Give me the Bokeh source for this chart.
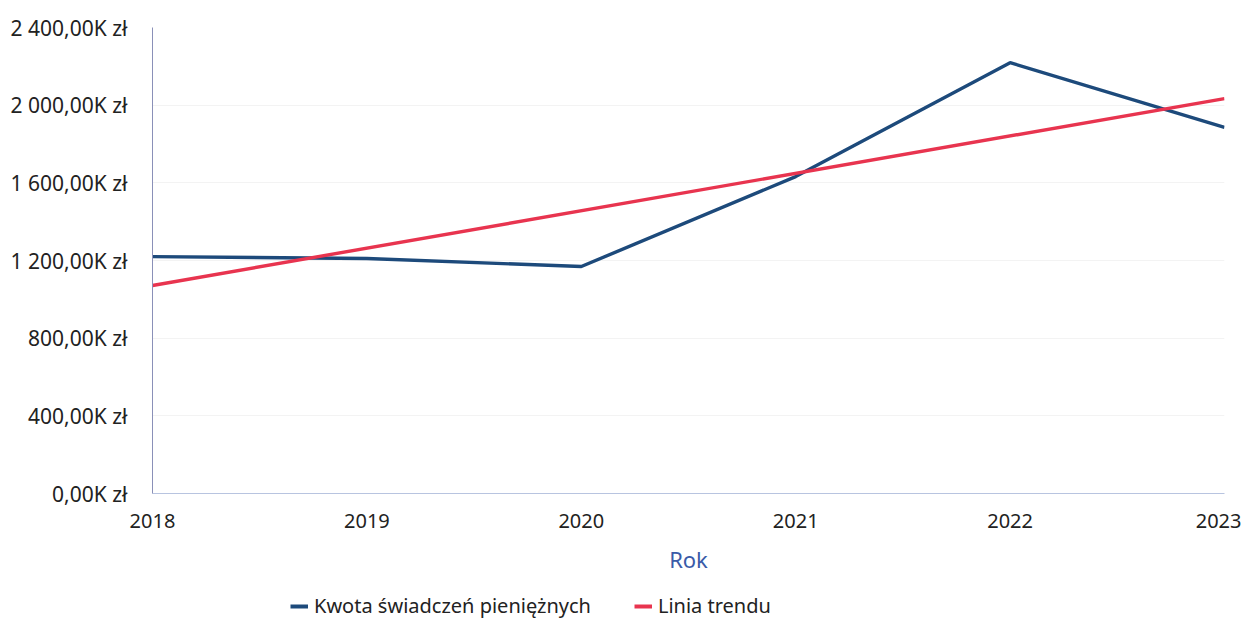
from bokeh.plotting import figure
from bokeh.models import Legend, LegendItem, FixedTicker, Range1d
from bokeh.layouts import column
from bokeh.embed import file_html
from bokeh.resources import INLINE

years = [2018, 2019, 2020, 2021, 2022, 2023]
amounts = [1220, 1210, 1169, 1632, 2219, 1885]  # thousands zł
trend_years = [2018, 2023]
trend_values = [1071, 2034]
y_ticks = [0, 400, 800, 1200, 1600, 2000, 2400]
y_labels = ["0,00K zł", "400,00K zł", "800,00K zł", "1 200,00K zł",
            "1 600,00K zł", "2 000,00K zł", "2 400,00K zł"]
x_labels = [str(y) for y in years]
series_names = ["Kwota świadczeń pieniężnych", "Linia trendu"]

FONT = "Noto Sans"
BLUE = "#1d4a7b"
RED = "#e8344f"

p = figure(width=1241, height=578, output_backend="svg", toolbar_location=None,
           x_range=Range1d(2018, 2023), y_range=Range1d(0, 2400),
           min_border_left=152, min_border_right=17, min_border_top=27,
           min_border_bottom=85)
p.outline_line_color = None

p.line(years, amounts, line_color=BLUE, line_width=3.4)
p.line(trend_years, trend_values, line_color=RED, line_width=3.4)

p.yaxis.ticker = FixedTicker(ticks=y_ticks)
p.yaxis.major_label_overrides = {t: l for t, l in zip(y_ticks, y_labels)}
p.xaxis.ticker = FixedTicker(ticks=years)
p.xaxis.major_label_overrides = {y: l for y, l in zip(years, x_labels)}

for ax in (p.xaxis, p.yaxis):
    ax.major_tick_line_color = None
    ax.minor_tick_line_color = None
    ax.major_label_text_font = FONT
    ax.major_label_text_color = "#222222"
p.xaxis.major_label_text_font_size = "20px"
p.yaxis.major_label_text_font_size = "21px"
p.yaxis.axis_line_color = "#8a90b8"
p.xaxis.axis_line_color = "#b8c4e0"
p.yaxis.major_label_standoff = 19
p.xaxis.major_label_standoff = 14

p.xaxis.axis_label = "Rok"
p.xaxis.axis_label_text_font = FONT
p.xaxis.axis_label_text_font_size = "22px"
p.xaxis.axis_label_text_font_style = "normal"
p.xaxis.axis_label_text_color = "#3a5ba8"
p.xaxis.axis_label_standoff = 13

p.xgrid.grid_line_color = None
p.ygrid.grid_line_color = "#f3f3f3"

# legend strip below the chart (its frame is aligned with the chart's frame)
q = figure(width=1241, height=41, output_backend="svg", toolbar_location=None,
           x_axis_type=None, y_axis_type=None, min_border=0,
           x_range=Range1d(0, 1), y_range=Range1d(0, 1))
q.outline_line_color = None
q.grid.visible = False
l1 = q.line([5, 6], [5, 6], line_color=BLUE, line_width=4)
l2 = q.line([5, 6], [5, 6], line_color=RED, line_width=4)
legend = Legend(items=[LegendItem(label=series_names[0], renderers=[l1]),
                       LegendItem(label=series_names[1], renderers=[l2])],
                orientation="horizontal", location=(138, 0))
legend.border_line_color = None
legend.background_fill_alpha = 0
legend.label_text_font = FONT
legend.label_text_font_size = "20px"
legend.label_text_color = "#222222"
legend.glyph_width = 18
legend.glyph_height = 20
legend.label_height = 20
legend.label_standoff = 6
legend.spacing = 43
legend.padding = 0
legend.margin = 0
q.add_layout(legend, "center")

layout = column(p, q, spacing=0)
open("out.html", "w").write(file_html(layout, INLINE))
